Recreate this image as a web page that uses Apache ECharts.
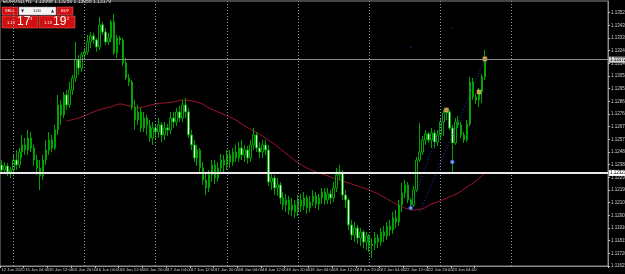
<!DOCTYPE html>
<html>
<head>
<meta charset="utf-8">
<script src="https://cdn.jsdelivr.net/npm/echarts@6/dist/echarts.min.js"></script>
<style>
  html, body { margin: 0; padding: 0; background: #000; }
  #chart { width: 625px; height: 274px; }
</style>
</head>
<body>
<div id="chart"></div>
<script>
// EURUSD H1, 12 Jun 2020 20:00 .. 23 Jun 2020 15:00
const opens = [
  1.12383, 1.12345, 1.12375, 1.12330, 1.12345, 1.12420, 1.12383, 1.12480, 1.12533, 1.12495,
  1.12585, 1.12510, 1.12420, 1.12360, 1.12300, 1.12420, 1.12495, 1.12570, 1.12510, 1.12645,
  1.12833, 1.12758, 1.12908, 1.12833, 1.12945, 1.13035, 1.13170, 1.13110, 1.13208, 1.13230,
  1.13305, 1.13350, 1.13320, 1.13268, 1.13433, 1.13380, 1.13305, 1.13335, 1.13455, 1.13223,
  1.13335, 1.13320, 1.13148, 1.13035, 1.13005, 1.12818, 1.12720, 1.12780, 1.12660, 1.12735,
  1.12683, 1.12585, 1.12660, 1.12630, 1.12683, 1.12608, 1.12660, 1.12645, 1.12735, 1.12705,
  1.12780, 1.12735, 1.12833, 1.12780, 1.12608, 1.12533, 1.12435, 1.12495, 1.12360, 1.12270,
  1.12210, 1.12308, 1.12383, 1.12285, 1.12360, 1.12420, 1.12383, 1.12458, 1.12405, 1.12480,
  1.12435, 1.12510, 1.12458, 1.12495, 1.12435, 1.12533, 1.12608, 1.12510, 1.12480, 1.12533,
  1.12495, 1.12255, 1.12285, 1.12210, 1.12233, 1.12135, 1.12083, 1.12120, 1.12045, 1.12083,
  1.12030, 1.12120, 1.12075, 1.12135, 1.12060, 1.12105, 1.12150, 1.12090, 1.12135, 1.12180,
  1.12120, 1.12165, 1.12135, 1.12210, 1.12308, 1.12330, 1.12158, 1.12120, 1.11933, 1.11858,
  1.11910, 1.11835, 1.11880, 1.11805, 1.11850, 1.11775, 1.11790, 1.11835, 1.11805, 1.11880,
  1.11850, 1.11925, 1.11895, 1.11985, 1.11955, 1.12083, 1.12173, 1.12233, 1.12120, 1.12083,
  1.12195, 1.12420, 1.12480, 1.12570, 1.12615, 1.12570, 1.12623, 1.12555, 1.12608, 1.12705,
  1.12773, 1.12780, 1.12660, 1.12548, 1.12705, 1.12683, 1.12608, 1.12570, 1.12690, 1.13005,
  1.12893, 1.12870, 1.12930, 1.13043
];
const closes = [
  1.12345, 1.12375, 1.12330, 1.12345, 1.12420, 1.12383, 1.12480, 1.12533, 1.12495, 1.12585,
  1.12510, 1.12420, 1.12360, 1.12300, 1.12420, 1.12495, 1.12570, 1.12510, 1.12645, 1.12833,
  1.12758, 1.12908, 1.12833, 1.12945, 1.13035, 1.13170, 1.13110, 1.13208, 1.13230, 1.13305,
  1.13350, 1.13320, 1.13268, 1.13433, 1.13380, 1.13305, 1.13335, 1.13455, 1.13223, 1.13335,
  1.13320, 1.13148, 1.13035, 1.13005, 1.12818, 1.12720, 1.12780, 1.12660, 1.12735, 1.12683,
  1.12585, 1.12660, 1.12630, 1.12683, 1.12608, 1.12660, 1.12645, 1.12735, 1.12705, 1.12780,
  1.12735, 1.12833, 1.12780, 1.12608, 1.12533, 1.12435, 1.12495, 1.12360, 1.12270, 1.12210,
  1.12308, 1.12383, 1.12285, 1.12360, 1.12420, 1.12383, 1.12458, 1.12405, 1.12480, 1.12435,
  1.12510, 1.12458, 1.12495, 1.12435, 1.12533, 1.12608, 1.12510, 1.12480, 1.12533, 1.12495,
  1.12255, 1.12285, 1.12210, 1.12233, 1.12135, 1.12083, 1.12120, 1.12045, 1.12083, 1.12030,
  1.12120, 1.12075, 1.12135, 1.12060, 1.12105, 1.12150, 1.12090, 1.12135, 1.12180, 1.12120,
  1.12165, 1.12135, 1.12210, 1.12308, 1.12330, 1.12158, 1.12120, 1.11933, 1.11858, 1.11910,
  1.11835, 1.11880, 1.11805, 1.11850, 1.11775, 1.11790, 1.11835, 1.11805, 1.11880, 1.11850,
  1.11925, 1.11895, 1.11985, 1.11955, 1.12083, 1.12173, 1.12233, 1.12120, 1.12083, 1.12195,
  1.12420, 1.12480, 1.12570, 1.12615, 1.12570, 1.12623, 1.12555, 1.12608, 1.12705, 1.12773,
  1.12780, 1.12660, 1.12548, 1.12705, 1.12683, 1.12608, 1.12570, 1.12690, 1.13005, 1.12893,
  1.12870, 1.12930, 1.13043, 1.13175
];
const lows = [
  1.12323, 1.12315, 1.12300, 1.12285, 1.12308, 1.12345, 1.12360, 1.12435, 1.12458, 1.12458,
  1.12480, 1.12375, 1.12308, 1.12195, 1.12270, 1.12383, 1.12458, 1.12480, 1.12495, 1.12608,
  1.12683, 1.12735, 1.12795, 1.12810, 1.12908, 1.13005, 1.13058, 1.13080, 1.13170, 1.13208,
  1.13260, 1.13290, 1.13230, 1.13245, 1.13358, 1.13283, 1.13283, 1.13305, 1.13208, 1.13185,
  1.13283, 1.13125, 1.13020, 1.12975, 1.12795, 1.12645, 1.12683, 1.12630, 1.12630, 1.12608,
  1.12555, 1.12533, 1.12570, 1.12585, 1.12555, 1.12570, 1.12600, 1.12615, 1.12660, 1.12675,
  1.12705, 1.12705, 1.12735, 1.12585, 1.12495, 1.12405, 1.12375, 1.12330, 1.12233, 1.12158,
  1.12180, 1.12255, 1.12240, 1.12255, 1.12330, 1.12330, 1.12345, 1.12360, 1.12375, 1.12405,
  1.12405, 1.12420, 1.12405, 1.12390, 1.12405, 1.12495, 1.12480, 1.12435, 1.12435, 1.12458,
  1.12225, 1.12195, 1.12158, 1.12150, 1.12090, 1.12045, 1.12030, 1.12008, 1.12000, 1.11985,
  1.12000, 1.12030, 1.12045, 1.12015, 1.12030, 1.12075, 1.12060, 1.12045, 1.12090, 1.12083,
  1.12090, 1.12090, 1.12105, 1.12180, 1.12270, 1.12120, 1.12060, 1.11895, 1.11820, 1.11805,
  1.11790, 1.11775, 1.11760, 1.11745, 1.11730, 1.11685, 1.11745, 1.11760, 1.11775, 1.11805,
  1.11820, 1.11850, 1.11865, 1.11910, 1.11925, 1.12030, 1.12135, 1.12098, 1.12053, 1.12068,
  1.12180, 1.12405, 1.12458, 1.12533, 1.12548, 1.12510, 1.12510, 1.12525, 1.12570, 1.12600,
  1.12720, 1.12645, 1.12323, 1.12533, 1.12660, 1.12585, 1.12548, 1.12555, 1.12675, 1.12870,
  1.12840, 1.12818, 1.12848, 1.13020
];
const highs = [
  1.12420, 1.12405, 1.12398, 1.12368, 1.12458, 1.12495, 1.12510, 1.12608, 1.12585, 1.12645,
  1.12630, 1.12533, 1.12458, 1.12420, 1.12458, 1.12570, 1.12630, 1.12608, 1.12683, 1.12908,
  1.12870, 1.12930, 1.12945, 1.13005, 1.13058, 1.13305, 1.13208, 1.13230, 1.13260, 1.13358,
  1.13380, 1.13373, 1.13335, 1.13493, 1.13455, 1.13410, 1.13373, 1.13470, 1.13515, 1.13358,
  1.13350, 1.13335, 1.13185, 1.13065, 1.13020, 1.12870, 1.12833, 1.12810, 1.12780, 1.12758,
  1.12720, 1.12705, 1.12690, 1.12735, 1.12705, 1.12705, 1.12690, 1.12780, 1.12780, 1.12810,
  1.12825, 1.12870, 1.12885, 1.12810, 1.12645, 1.12570, 1.12533, 1.12510, 1.12405, 1.12330,
  1.12345, 1.12420, 1.12420, 1.12405, 1.12465, 1.12458, 1.12495, 1.12495, 1.12510, 1.12533,
  1.12555, 1.12570, 1.12533, 1.12525, 1.12570, 1.12660, 1.12630, 1.12555, 1.12570, 1.12570,
  1.12533, 1.12330, 1.12308, 1.12285, 1.12255, 1.12180, 1.12165, 1.12150, 1.12135, 1.12120,
  1.12158, 1.12165, 1.12180, 1.12158, 1.12150, 1.12195, 1.12180, 1.12165, 1.12210, 1.12210,
  1.12210, 1.12195, 1.12255, 1.12360, 1.12383, 1.12345, 1.12195, 1.12135, 1.11970, 1.11955,
  1.11933, 1.11910, 1.11895, 1.11880, 1.11865, 1.11835, 1.11880, 1.11865, 1.11910, 1.11925,
  1.11955, 1.11970, 1.12030, 1.12045, 1.12120, 1.12248, 1.12270, 1.12255, 1.12135, 1.12225,
  1.12443, 1.12698, 1.12600, 1.12645, 1.12630, 1.12660, 1.12645, 1.12645, 1.12735, 1.12795,
  1.12803, 1.12795, 1.12683, 1.12735, 1.12750, 1.12705, 1.12630, 1.12720, 1.13043, 1.13035,
  1.12915, 1.12960, 1.13065, 1.13245
];

// moving average, read every third bar: [bar, price]
const maPoints = [
  [22, 1.12713], [25, 1.12728], [28, 1.12750], [31, 1.12780], [34, 1.12803], [37, 1.12818],
  [40, 1.12840], [43, 1.12825], [46, 1.12810], [49, 1.12825], [52, 1.12840], [55, 1.12848],
  [58, 1.12855], [61, 1.12870], [64, 1.12863], [67, 1.12848], [70, 1.12810], [73, 1.12780],
  [76, 1.12750], [79, 1.12720], [82, 1.12675], [85, 1.12638], [88, 1.12600], [91, 1.12555],
  [94, 1.12503], [97, 1.12450], [100, 1.12398], [103, 1.12360], [106, 1.12330], [109, 1.12308],
  [112, 1.12285], [115, 1.12263], [118, 1.12240], [121, 1.12218], [124, 1.12195], [127, 1.12165],
  [130, 1.12128], [133, 1.12090], [136, 1.12060], [139, 1.12045], [142, 1.12053], [145, 1.12090],
  [148, 1.12113], [151, 1.12143], [154, 1.12173], [157, 1.12218], [160, 1.12263], [163, 1.12323]
];

// dotted channel lines and indicator dots
const zigA = [[138, 1.12060], [150, 1.12795]];
const zigB = [[141, 1.12030], [163, 1.13178]];
const blueDots = [[138, 1.12060], [152, 1.12405]];
const orangeDots = [[150, 1.12795], [161, 1.12930], [163, 1.13178]];
const navyDots = [[138, 1.13268], [152, 1.13410]];

const timeLabels = [
  '12 Jun 2020', '15 Jun 04:00', '15 Jun 12:00', '15 Jun 20:00', '16 Jun 04:00', '16 Jun 12:00',
  '16 Jun 20:00', '17 Jun 04:00', '17 Jun 12:00', '17 Jun 20:00', '18 Jun 04:00', '18 Jun 12:00',
  '18 Jun 20:00', '19 Jun 04:00', '19 Jun 12:00', '19 Jun 20:00', '22 Jun 04:00', '22 Jun 12:00',
  '22 Jun 20:00', '23 Jun 04:00', '23 Jun 12:00'
];
const dayBars = [4, 28, 52, 76, 100, 124, 148, 172]; // midnight separators
const bidPrice = 1.13172;
const levelPrice = 1.12323;

const SLOTS = 205; // chart is shifted, empty room on the right
const cats = [];
for (let i = 0; i < SLOTS; i++) cats.push(String(i));
const candles = opens.map((o, i) => [o, closes[i], lows[i], highs[i]]);

const FONT = 'Liberation Sans';
const GREEN = '#00a400';
const showLabel = (i) => i % 8 === 0 && i / 8 < timeLabels.length;
const priceTag = (bg) => ({
  show: true, position: 'end', distance: 1,
  formatter: (p) => Number(p.value).toFixed(5),
  fontSize: 4.5, fontFamily: FONT, color: '#000',
  backgroundColor: bg, padding: [1, 1, 0, 1]
});

const chart = echarts.init(document.getElementById('chart'));
chart.setOption({
  backgroundColor: '#000',
  animation: false,
  grid: {
    left: 0, right: 17, top: 1, bottom: 8,
    outerBoundsMode: 'none', containLabel: false,
    show: true, borderColor: '#8c8c8c', borderWidth: 1, backgroundColor: '#000'
  },
  xAxis: {
    type: 'category',
    data: cats,
    boundaryGap: true,
    axisLine: { lineStyle: { color: '#8c8c8c' } },
    axisTick: { show: true, interval: showLabel, length: 2, lineStyle: { color: '#bdbdbd' } },
    axisLabel: {
      interval: showLabel,
      showMinLabel: true,
      hideOverlap: false,
      formatter: (v, i) => timeLabels[i / 8] || '',
      align: 'left',
      margin: 2,
      fontSize: 4.2,
      fontFamily: FONT,
      color: '#d0d0d0'
    },
    splitLine: { show: false }
  },
  yAxis: {
    type: 'value',
    position: 'right',
    min: 1.11625,
    max: 1.13612,
    interval: 0.00095,
    axisLine: { show: true, lineStyle: { color: '#8c8c8c' } },
    axisTick: { show: true, length: 2, lineStyle: { color: '#bdbdbd' } },
    axisLabel: {
      showMaxLabel: false,
      formatter: (v) => v.toFixed(5),
      margin: 3,
      fontSize: 4.5,
      fontFamily: FONT,
      color: '#d0d0d0'
    },
    splitLine: { show: false }
  },
  series: [
    {
      name: 'MA',
      type: 'line',
      data: maPoints,
      smooth: 0.3,
      showSymbol: false,
      lineStyle: { color: '#a0142c', width: 1 },
      z: 1,
      markLine: {
        silent: true,
        symbol: 'none',
        precision: 5,
        animation: false,
        data: [
          ...dayBars.map(b => ({
            xAxis: String(b),
            lineStyle: { color: '#8899aa', type: [1, 2], width: 1 },
            label: { show: false }
          })),
          { yAxis: bidPrice, lineStyle: { color: '#8a8a8a', type: 'solid', width: 1 }, label: priceTag('#d4d4d4') },
          { yAxis: levelPrice, lineStyle: { color: '#e8e8e8', type: 'solid', width: 2 }, label: priceTag('#ffffff') }
        ]
      }
    },
    {
      name: 'EURUSD,H1',
      type: 'candlestick',
      data: candles,
      barWidth: 2,
      itemStyle: {
        color: '#000',
        color0: '#eaffea',
        borderColor: GREEN,
        borderColor0: GREEN,
        borderWidth: 1
      },
      z: 2
    },
    {
      type: 'line', data: zigA, showSymbol: false, z: 3,
      lineStyle: { color: '#1e3cd8', type: [1, 2], width: 1 }
    },
    {
      type: 'line', data: zigB, showSymbol: false, z: 3,
      lineStyle: { color: '#1e3cd8', type: [1, 2], width: 1 }
    },
    {
      type: 'scatter', data: blueDots, symbol: 'circle', symbolSize: 4, z: 4,
      itemStyle: { color: '#a8c0ff', borderColor: '#2040e0', borderWidth: 1 }
    },
    {
      type: 'scatter', data: orangeDots, symbol: 'rect', symbolSize: 4, z: 4,
      itemStyle: { color: '#f0b050', borderColor: '#ffe0a0', borderWidth: 0.5 }
    },
    {
      type: 'scatter', data: navyDots, symbol: 'circle', symbolSize: 2, z: 4,
      itemStyle: { color: '#1c1c7a' }
    }
  ],
  graphic: [
    {
      type: 'text', left: 3, top: -1,
      style: { text: 'EURUSD,H1  1.13068 1.13250 1.13056 1.13179', fontSize: 5, fontFamily: FONT, fill: '#e0e0e0' }
    },
    // one click trading panel
    { type: 'rect', shape: { x: 2, y: 7, width: 16, height: 8 }, style: { fill: '#d01010', stroke: '#ff6a6a', lineWidth: 0.5 } },
    { type: 'text', x: 5, y: 9, style: { text: 'SELL', fontSize: 4, fontFamily: FONT, fill: '#fff' } },
    { type: 'rect', shape: { x: 19, y: 7, width: 37, height: 8 }, style: { fill: '#f4f4f4', stroke: '#999', lineWidth: 0.5 } },
    { type: 'text', x: 21, y: 9, style: { text: '▼', fontSize: 4, fontFamily: 'DejaVu Sans', fill: '#333' } },
    { type: 'text', x: 33, y: 9, style: { text: '1.00', fontSize: 4, fontFamily: FONT, fill: '#000' } },
    { type: 'text', x: 51, y: 9, style: { text: '▲', fontSize: 4, fontFamily: 'DejaVu Sans', fill: '#333' } },
    { type: 'rect', shape: { x: 57, y: 7, width: 16, height: 8 }, style: { fill: '#d01010', stroke: '#ff6a6a', lineWidth: 0.5 } },
    { type: 'text', x: 61, y: 9, style: { text: 'BUY', fontSize: 4, fontFamily: FONT, fill: '#fff' } },
    { type: 'rect', shape: { x: 2, y: 16, width: 36, height: 12 }, style: { fill: '#d01010', stroke: '#ff6a6a', lineWidth: 0.5 } },
    { type: 'text', x: 7, y: 21, style: { text: '1.13', fontSize: 4, fontFamily: FONT, fill: '#fff' } },
    { type: 'text', x: 17, y: 16, style: { text: '17', fontSize: 12, fontFamily: FONT, fill: '#fff' } },
    { type: 'text', x: 30, y: 17, style: { text: '3', fontSize: 4, fontFamily: FONT, fill: '#fff' } },
    { type: 'rect', shape: { x: 39, y: 16, width: 36, height: 12 }, style: { fill: '#d01010', stroke: '#ff6a6a', lineWidth: 0.5 } },
    { type: 'text', x: 44, y: 21, style: { text: '1.13', fontSize: 4, fontFamily: FONT, fill: '#fff' } },
    { type: 'text', x: 53, y: 16, style: { text: '19', fontSize: 12, fontFamily: FONT, fill: '#fff' } },
    { type: 'text', x: 67, y: 17, style: { text: '2', fontSize: 4, fontFamily: FONT, fill: '#fff' } }
  ]
});
</script>
</body>
</html>
